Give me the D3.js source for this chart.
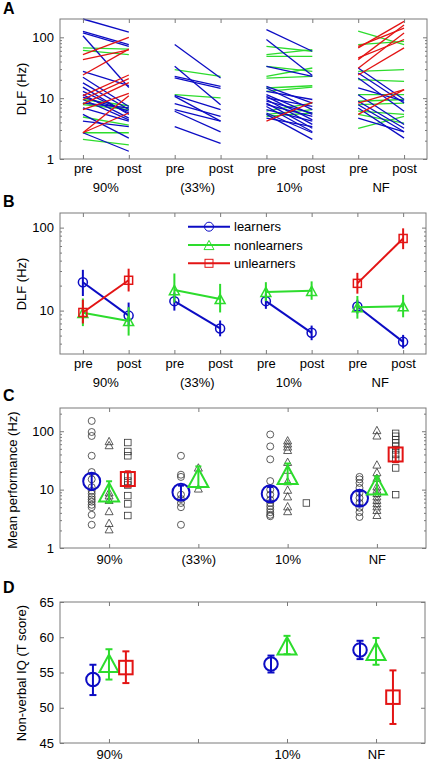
<!DOCTYPE html>
<html><head><meta charset="utf-8">
<script src="https://cdn.jsdelivr.net/npm/d3@7"></script>
<style>body{margin:0;background:#fff} svg text{font-family:"Liberation Sans",Arial,sans-serif}</style>
</head><body><script>
// ---------- DATA ----------
const groups = ["90%", "(33%)", "10%", "NF"];
const prePost = ["pre", "post"];
const seriesNames = ["learners", "nonlearners", "unlearners"];

// Panel A: individual DLF (Hz) [pre, post]
const a90Learners = [[200,122],[125,76],[118,71],[106,15],[27.5,16],[22,7.3],[17.8,6.5],[15.2,5.4],[12.9,5.7],[11.4,4.7],[10.4,6.1],[9.5,4.4],[8.3,6.9],[6.9,4.2],[5.4,2.2],[4.2,3.4],[2.7,1.34]];
const a90Non = [[67,64],[61,52],[9.5,7.5],[8.3,6.9],[7.8,6.5],[4.9,3.6],[2.7,2.7],[2.1,1.7]];
const a90Un = [[52,100],[43,62],[24,64],[11,24],[9.5,21],[8,18],[6.5,12],[2.7,11],[2.7,5.7]];
const a33Learners = [[76,21.5],[33.4,7.8],[22.8,15.6],[21.5,14.5],[11.1,6.5],[10.7,4.2],[8.1,5.0],[6.5,4.2],[6.1,2.8],[3.4,1.8]];
const a33Non = [[29.4,22.8],[11.4,10.1]];
const a33Un = [];
const a10Learners = [[134,59],[92,23.5],[33.4,22.8],[15.6,8.3],[14.7,6.5],[12.9,9.5],[11.4,5.4],[10.7,4.4],[10.1,7.3],[9.5,3.7],[8.9,5.7],[8.3,3.2],[7.8,5.0],[7.3,2.8],[6.5,4.2],[5.7,2.7],[5.4,2.1],[4.7,3.4]];
const a10Non = [[71,59],[52,63],[48.7,48.7],[33.4,27.6],[22.8,31.3],[21.4,22.8],[14.7,16],[12.9,15.2],[6.1,8.3],[5.4,6.5],[5.0,5.7]];
const a10Un = [[4.2,8.5]];
const aNFLearners = [[31.3,9.5],[25.9,8.3],[21.4,6.1],[14.7,8.9],[11.4,3.7],[8.9,3.2],[7.8,2.8],[6.9,2.2],[4.7,2.8]];
const aNFNon = [[126,76],[76,86],[27.6,29.4],[20.1,18.9],[11.4,11.4],[8.9,9.5],[7.8,8.3],[6.1,5.4],[5.4,3.9],[3.2,5.0]];
const aNFUn = [[71,142],[67,183],[46,92],[43,160],[31,118],[24,67],[8.3,13.8],[5.4,13.8]];

// Panel B: group means with error bars, 8 positions (pre/post x 4 groups)
const bLearners   = [22, 8.7, 13, 6.1, 13, 5.4, 11.2, 4.2];
const bLearnersLo = [15, 6.5, 10, 4.9, 10.5, 4.4, 9.2, 3.5];
const bLearnersHi = [31, 12.5, 16.5, 7.6, 16, 6.6, 13.5, 5.1];
const bNon   = [9.4, 7.5, 17.7, 13.8, 16.8, 17.3, 11, 11.3];
const bNonLo = [6.5, 5, 12.5, 9.5, 13, 13.5, 8, 8.3];
const bNonHi = [14, 11, 28, 21, 22, 22.5, 15, 15.5];
const bUn   = [9.5, 23.2, null, null, null, null, 21.3, 74];
const bUnLo = [7, 17, null, null, null, null, 16, 55];
const bUnHi = [13.5, 32, null, null, null, null, 28.5, 98];

// Panel C: individual mean performance (Hz)
const c90Learners = [150, 97, 83, 38, 20, 15, 11, 9.5, 8.5, 7.5, 6.8, 6.2, 5.5, 5, 3.7, 2.5];
const c90Non = [68, 58, 9, 8, 6.7, 4.3, 2.7, 2.1];
const c90Un = [64, 45, 38, 17, 14, 12, 7.9, 5.7, 3.6];
const c33Learners = [38, 18, 16.5, 8.2, 6.9, 5.9, 5.0, 2.5];
const c33Non = [24, 10.5];
const c33Un = [];
const c10Learners = [88, 55, 33, 14, 10, 8.2, 6.7, 5.9, 5.2, 4.6, 4.1, 3.7, 3.5];
const c10Non = [70, 62, 55, 48, 30, 22, 14, 10, 7.7, 5.2, 4.3];
const c10Un = [5.9];
const cNFLearners = [16.5, 15, 13, 10.7, 8.8, 7.2, 5.9, 4.9, 4.1, 3.4];
const cNFNon = [105, 85, 27, 20, 16, 11.4, 10, 8.8, 7.7, 6.7, 5.9, 5.2, 4.5, 3.7];
const cNFUn = [92, 82, 72, 63, 55, 48, 40, 33, 23.5, 8.2];
// Panel C: group means and error bars
const cLearnersMean = [13.9, 9.0, 8.5, 7.1];
const cLearnersLo = [9.9, 6.7, 6.3, 5.3];
const cLearnersHi = [18.7, 11.7, 11.1, 9.4];
const cNonMean = [9.0, 16, 18, 11.8];
const cNonLo = [6, 10.7, 13, 8.5];
const cNonHi = [13.9, 25, 28, 16.8];
const cUnMean = [15.2, null, null, 40];
const cUnLo = [11.2, null, null, 29.5];
const cUnHi = [20.6, null, null, 52];

// Panel D: non-verbal IQ (T score)
const dGroups = ["90%", "", "10%", "NF"];
const dLearners = [54, null, 56.2, 58.2];
const dLearnersLo = [51.8, null, 55.0, 56.9];
const dLearnersHi = [56.1, null, 57.4, 59.5];
const dNon = [56.3, null, 58.8, 58.0];
const dNonLo = [54.0, null, 57.6, 56.1];
const dNonHi = [58.3, null, 60.2, 59.9];
const dUn = [55.7, null, null, 51.5];
const dUnLo = [53.5, null, null, 47.7];
const dUnHi = [58.0, null, null, 55.3];

// ---------- DRAWING ----------
const W = 430, H = 762;
const BLUE = "#0c0cc4", GREEN = "#2ddc2d", RED = "#e31414", FRAME = "#7a7a7a", PT = "#333";
const FONT = "'Liberation Sans', Arial, sans-serif";
const svg = d3.select("body").append("svg").attr("width", W).attr("height", H);

function tri(w, h) { return `M0,${-h/2}L${w/2},${h/2}L${-w/2},${h/2}Z`; }
function marker(g, type, cx, cy, size, color, sw) {
  if (type === "circle") {
    g.append("circle").attr("cx", cx).attr("cy", cy).attr("r", size/2)
      .attr("fill", "none").attr("stroke", color).attr("stroke-width", sw);
  } else if (type === "tri") {
    g.append("path").attr("d", tri(size, size*0.92)).attr("transform", `translate(${cx},${cy})`)
      .attr("fill", "none").attr("stroke", color).attr("stroke-width", sw).attr("stroke-linejoin", "miter");
  } else {
    g.append("rect").attr("x", cx - size/2).attr("y", cy - size/2).attr("width", size).attr("height", size)
      .attr("fill", "none").attr("stroke", color).attr("stroke-width", sw);
  }
}
function styleAxis(sel) {
  sel.select(".domain").remove();
  sel.attr("font-family", FONT).attr("font-size", 13);
  sel.selectAll(".tick line").attr("stroke", FRAME);
  sel.selectAll(".tick text").attr("fill", "#000");
}
function minorTicks(domain) {
  const out = [];
  for (let e = -1; e < 4; e++) for (let m = 2; m <= 9; m++) {
    const v = m * Math.pow(10, e);
    if (v > domain[0] && v < domain[1]) out.push(v);
  }
  return out;
}
function logFrame(x, y, majors, labels) {
  const [x0, x1] = x.range(), [y1, y0] = y.range();
  const g = svg.append("g");
  g.append("g").attr("transform", `translate(${x0},0)`)
    .call(d3.axisLeft(y).tickValues(majors).tickFormat((d, i) => labels[i]).tickSize(-4).tickPadding(6)).call(styleAxis);
  g.append("g").attr("transform", `translate(${x0},0)`)
    .call(d3.axisLeft(y).tickValues(minorTicks(y.domain())).tickFormat("").tickSize(-2)).call(styleAxis);
  g.append("g").attr("transform", `translate(${x1},0)`)
    .call(d3.axisRight(y).tickValues(majors).tickFormat("").tickSize(-4)).call(styleAxis);
  g.append("g").attr("transform", `translate(${x1},0)`)
    .call(d3.axisRight(y).tickValues(minorTicks(y.domain())).tickFormat("").tickSize(-2)).call(styleAxis);
  return g;
}
function box(x, y) {
  const [x0, x1] = x.range(), [y1, y0] = y.range();
  svg.append("rect").attr("x", x0).attr("y", y0).attr("width", x1 - x0).attr("height", y1 - y0)
    .attr("fill", "none").attr("stroke", FRAME).attr("stroke-width", 1);
}
function xFrame(x, y, vals, fmt, pad) {
  const [y1, y0] = y.range();
  svg.append("g").attr("transform", `translate(0,${y1})`)
    .call(d3.axisBottom(x).tickValues(vals).tickFormat(fmt).tickSize(-4).tickPadding(pad)).call(styleAxis);
  svg.append("g").attr("transform", `translate(0,${y0})`)
    .call(d3.axisTop(x).tickValues(vals).tickFormat("").tickSize(-4)).call(styleAxis);
}
function label(txt, x, y, opts = {}) {
  const t = svg.append("text").attr("x", x).attr("y", y).text(txt)
    .attr("font-family", FONT).attr("font-size", opts.size || 13).attr("fill", "#000")
    .attr("text-anchor", opts.anchor || "middle");
  if (opts.bold) t.attr("font-weight", "bold");
  if (opts.rotate) t.attr("transform", `rotate(-90,${x},${y})`);
  return t;
}

// ===== Panel A =====
const xA = d3.scaleLinear().domain([0.5, 8.5]).range([60, 427]);
const yA = d3.scaleLog().domain([1, 200]).range([159, 19]);
const aData = [
  [a90Non, a90Learners, a90Un],
  [a33Non, a33Learners, a33Un],
  [a10Non, a10Learners, a10Un],
  [aNFNon, aNFLearners, aNFUn]
];
const aColors = [GREEN, BLUE, RED];
const gA = svg.append("g");
aData.forEach((sets, gi) => {
  sets.forEach((set, si) => {
    set.forEach(([pre, post]) => {
      gA.append("line").attr("x1", xA(2*gi + 1)).attr("y1", yA(pre))
        .attr("x2", xA(2*gi + 2)).attr("y2", yA(post))
        .attr("stroke", aColors[si]).attr("stroke-width", 1.3);
    });
  });
});
box(xA, yA);
logFrame(xA, yA, [1, 10, 100], ["1", "10", "100"]);
xFrame(xA, yA, d3.range(1, 9), d => prePost[(d - 1) % 2], 5);
groups.forEach((gname, gi) => label(gname, xA(2*gi + 1.5), 191.5));
label("DLF (Hz)", 26, 89, { rotate: true });
label("A", 3, 14, { anchor: "start", bold: true, size: 16 });

// ===== Panel B =====
const xB = d3.scaleLinear().domain([0.5, 8.5]).range([60, 426]);
const yB = d3.scaleLog().domain([3, 150]).range([354, 213]);
const bSeries = [
  { m: bLearners, lo: bLearnersLo, hi: bLearnersHi, c: BLUE, t: "circle", s: 9 },
  { m: bNon, lo: bNonLo, hi: bNonHi, c: GREEN, t: "tri", s: 10 },
  { m: bUn, lo: bUnLo, hi: bUnHi, c: RED, t: "square", s: 8 }
];
const gB = svg.append("g");
bSeries.forEach(s => {
  for (let gi = 0; gi < 4; gi++) {
    const a = s.m[2*gi], b = s.m[2*gi + 1];
    if (a != null && b != null)
      gB.append("line").attr("x1", xB(2*gi + 1)).attr("y1", yB(a)).attr("x2", xB(2*gi + 2)).attr("y2", yB(b))
        .attr("stroke", s.c).attr("stroke-width", 2);
  }
  s.m.forEach((v, i) => {
    if (v == null) return;
    gB.append("line").attr("x1", xB(i + 1)).attr("x2", xB(i + 1)).attr("y1", yB(s.lo[i])).attr("y2", yB(s.hi[i]))
      .attr("stroke", s.c).attr("stroke-width", 2);
    marker(gB, s.t, xB(i + 1), yB(v), s.s, s.c, 1.5);
  });
});
box(xB, yB);
logFrame(xB, yB, [10, 100], ["10", "100"]);
xFrame(xB, yB, d3.range(1, 9), d => prePost[(d - 1) % 2], 5);
groups.forEach((gname, gi) => label(gname, xB(2*gi + 1.5), 386.5));
label("DLF (Hz)", 26, 284, { rotate: true });
label("B", 3, 207, { anchor: "start", bold: true, size: 16 });
// legend
const legY = [226.7, 245, 263.3];
bSeries.forEach((s, i) => {
  gB.append("line").attr("x1", 188).attr("x2", 230).attr("y1", legY[i]).attr("y2", legY[i])
    .attr("stroke", s.c).attr("stroke-width", 2);
  marker(gB, s.t, 209, legY[i], s.s, s.c, 1);
  label(seriesNames[i], 234, legY[i] + 4.5, { anchor: "start" });
});

// ===== Panel C =====
const xC = d3.scaleLinear().domain([0.45, 4.55]).range([60, 426]);
const yC = d3.scaleLog().domain([1, 250]).range([548, 408]);
const cIndiv = [
  [c90Learners, c90Non, c90Un],
  [c33Learners, c33Non, c33Un],
  [c10Learners, c10Non, c10Un],
  [cNFLearners, cNFNon, cNFUn]
];
const cTypes = ["circle", "tri", "square"];
const cSizes = [7, 8, 6.5];
const cOff = [-0.195, 0, 0.21];
const gC = svg.append("g");
cIndiv.forEach((sets, gi) => sets.forEach((set, si) => set.forEach(v => {
  marker(gC, cTypes[si], xC(gi + 1 + cOff[si]), yC(v), cSizes[si], PT, 0.8);
})));
const cMeans = [
  { m: cLearnersMean, lo: cLearnersLo, hi: cLearnersHi, c: BLUE, t: "circle", s: 17 },
  { m: cNonMean, lo: cNonLo, hi: cNonHi, c: GREEN, t: "tri", s: 20 },
  { m: cUnMean, lo: cUnLo, hi: cUnHi, c: RED, t: "square", s: 14 }
];
cMeans.forEach((s, si) => s.m.forEach((v, gi) => {
  if (v == null) return;
  const cx = xC(gi + 1 + cOff[si]);
  gC.append("line").attr("x1", cx).attr("x2", cx).attr("y1", yC(s.lo[gi])).attr("y2", yC(s.hi[gi])).attr("stroke", s.c).attr("stroke-width", 2);
  [s.lo[gi], s.hi[gi]].forEach(e => gC.append("line").attr("x1", cx - 3).attr("x2", cx + 3).attr("y1", yC(e)).attr("y2", yC(e)).attr("stroke", s.c).attr("stroke-width", 2));
  marker(gC, s.t, cx, yC(v), s.s, s.c, 2);
}));
box(xC, yC);
logFrame(xC, yC, [1, 10, 100], ["1", "10", "100"]);
xFrame(xC, yC, [1, 2, 3, 4], d => groups[d - 1], 7);
label("Mean performance (Hz)", 17, 480, { rotate: true });
label("C", 3, 401, { anchor: "start", bold: true, size: 16 });

// ===== Panel D =====
const xD = d3.scaleLinear().domain([0.45, 4.55]).range([60, 425]);
const yD = d3.scaleLinear().domain([45, 65]).range([743, 602]);
const dSeries = [
  { m: dLearners, lo: dLearnersLo, hi: dLearnersHi, c: BLUE, t: "circle", s: 13.5, off: -0.18 },
  { m: dNon, lo: dNonLo, hi: dNonHi, c: GREEN, t: "tri", s: 19, off: 0 },
  { m: dUn, lo: dUnLo, hi: dUnHi, c: RED, t: "square", s: 13.5, off: 0.19 }
];
const gD = svg.append("g");
dSeries.forEach(s => s.m.forEach((v, gi) => {
  if (v == null) return;
  const cx = xD(gi + 1 + s.off);
  gD.append("line").attr("x1", cx).attr("x2", cx).attr("y1", yD(s.lo[gi])).attr("y2", yD(s.hi[gi])).attr("stroke", s.c).attr("stroke-width", 2);
  [s.lo[gi], s.hi[gi]].forEach(e => gD.append("line").attr("x1", cx - 3.5).attr("x2", cx + 3.5).attr("y1", yD(e)).attr("y2", yD(e)).attr("stroke", s.c).attr("stroke-width", 2));
  marker(gD, s.t, cx, yD(v), s.s, s.c, 2);
}));
box(xD, yD);
svg.append("g").attr("transform", "translate(60,0)")
  .call(d3.axisLeft(yD).tickValues([45, 50, 55, 60, 65]).tickSize(-4).tickPadding(6)).call(styleAxis);
svg.append("g").attr("transform", "translate(425,0)")
  .call(d3.axisRight(yD).tickValues([45, 50, 55, 60, 65]).tickFormat("").tickSize(-4)).call(styleAxis);
xFrame(xD, yD, [1, 2, 3, 4], d => dGroups[d - 1], 7);
label("Non-verbal IQ (T score)", 26, 673, { rotate: true });
label("D", 3, 593, { anchor: "start", bold: true, size: 16 });
</script></body></html>
